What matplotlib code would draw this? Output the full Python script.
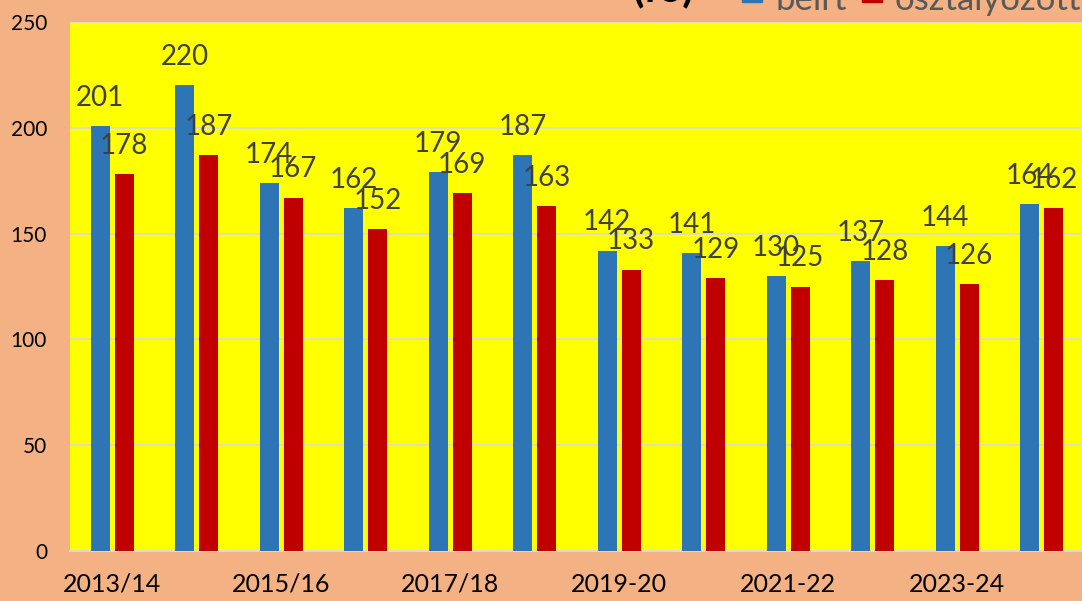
import matplotlib.pyplot as plt
from matplotlib.patches import Rectangle
import numpy as np

years = ["2013/14", "2014/15", "2015/16", "2016/17", "2017/18", "2018/19",
         "2019-20", "2020-21", "2021-22", "2022-23", "2023-24", "2024-25"]
beirt = [201, 220, 174, 162, 179, 187, 142, 141, 130, 137, 144, 164]
osztalyozott = [178, 187, 167, 152, 169, 163, 133, 129, 125, 128, 126, 162]

blue = "#2E75B6"
red = "#C00000"
W, H = 1082, 601
fam = ["Lato", "DejaVu Sans"]

fig = plt.figure(figsize=(W / 100, H / 100), dpi=100, facecolor="#F4B183")
ax = fig.add_axes([70 / W, 1 - 551 / H, 1014 / W, 529 / H])
ax.set_facecolor("#FFFF00")

x = np.arange(len(years))
w = 0.225
b1 = ax.bar(x - 0.142, beirt, w, color=blue, zorder=3)
b2 = ax.bar(x + 0.142, osztalyozott, w, color=red, zorder=3)

for bars in (b1, b2):
    for r in bars:
        h = r.get_height()
        ax.annotate(f"{h:.0f}", (r.get_x() + r.get_width() / 2, h),
                    xytext=(0, 14.5), textcoords="offset points",
                    ha="center", va="baseline", fontsize=20,
                    color="#404040", family=fam)

ax.set_xlim(-0.5, len(years) - 0.5)
ax.set_ylim(0, 250)
ax.set_yticks(range(0, 251, 50))
ax.yaxis.grid(True, color="#D9D9D9", lw=1.2, zorder=0)
ax.set_xticks(x[::2])
ax.set_xticklabels(years[::2])
ax.tick_params(axis="x", length=0, pad=15.5, labelsize=18, labelcolor="black")
ax.tick_params(axis="y", length=0, pad=16.5, labelsize=15, labelcolor="black")
for t in ax.get_xticklabels() + ax.get_yticklabels():
    t.set_family(fam)
for s in ["top", "right", "left"]:
    ax.spines[s].set_visible(False)
ax.spines["bottom"].set_color("#D9D9D9")
ax.spines["bottom"].set_linewidth(1.5)

# title and legend sit above the top edge and are cut off, as in the original
fig.text(632 / W, 1 - 1 / H, "(fő)", fontsize=30, fontweight="bold",
         color="black", va="baseline", family=fam)
for x0, col, lab in [(742, blue, "beírt"), (862, red, "osztályozott")]:
    fig.patches.append(Rectangle((x0 / W, 1 - 2 / H), 20 / W, 20 / H,
                                 transform=fig.transFigure, color=col))
    fig.text((x0 + 33) / W, 1 - 10 / H, lab, fontsize=25, color="#595959",
             va="baseline", family=fam)

fig.savefig("out.png", dpi=100, facecolor=fig.get_facecolor())
